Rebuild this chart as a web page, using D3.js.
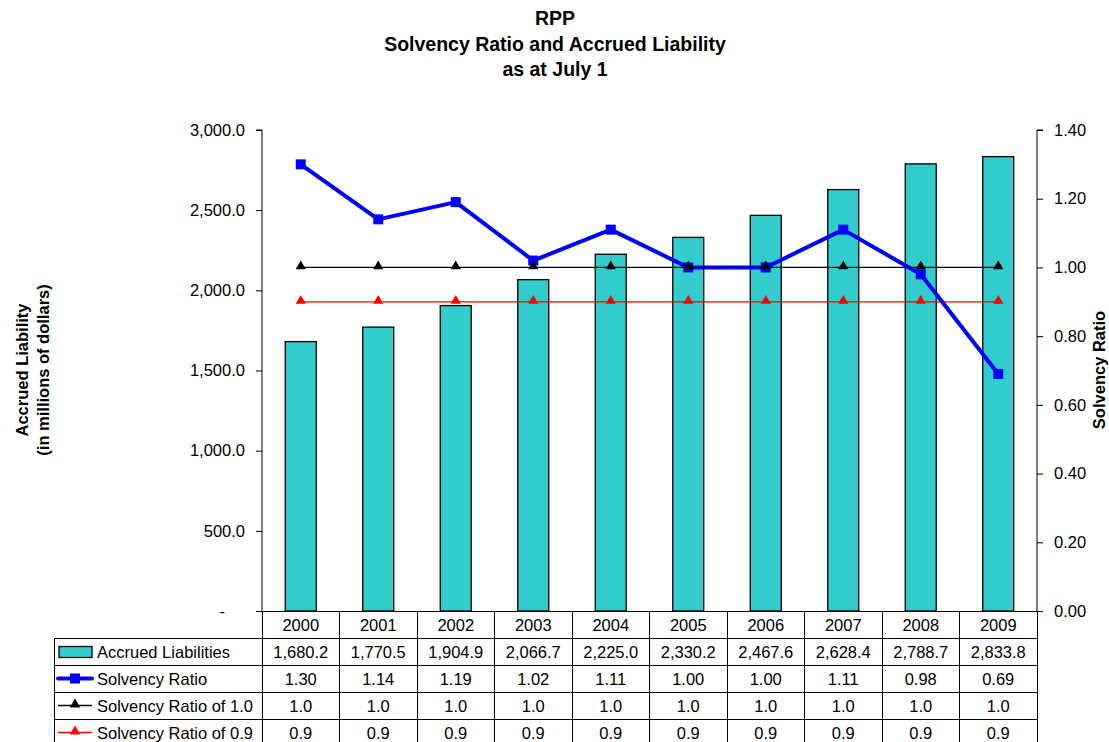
<!DOCTYPE html>
<html>
<head>
<meta charset="utf-8">
<script src="https://cdn.jsdelivr.net/npm/d3@7"></script>
<style>
body{margin:0;background:#fff;}
svg{font-family:"Liberation Sans",Arial,sans-serif;}
</style>
</head>
<body>
<svg id="chart" width="1109" height="742"></svg>
<script>
var years=["2000","2001","2002","2003","2004","2005","2006","2007","2008","2009"];
var accrued=[1680.2,1770.5,1904.9,2066.7,2225.0,2330.2,2467.6,2628.4,2788.7,2833.8];
var solvency=[1.30,1.14,1.19,1.02,1.11,1.00,1.00,1.11,0.98,0.69];
var ratio10=[1.0,1.0,1.0,1.0,1.0,1.0,1.0,1.0,1.0,1.0];
var ratio09=[0.9,0.9,0.9,0.9,0.9,0.9,0.9,0.9,0.9,0.9];
var leftTicks=[0,500,1000,1500,2000,2500,3000];
var rightTicks=[0,0.2,0.4,0.6,0.8,1.0,1.2,1.4];

var svg=d3.select("#chart"),
 plotL=262, plotR=1037, plotT=130, plotB=611, rowH=27, fs="16.5px";

var x=d3.scaleBand().domain(years).range([plotL,plotR]).paddingInner(0.6).paddingOuter(0.3);
var xc=function(i){ return x(years[i])+x.bandwidth()/2; };
var yL=d3.scaleLinear().domain([0,3000]).range([plotB,plotT]);
var yR=d3.scaleLinear().domain([0,1.4]).range([plotB,plotT]);

//title
var titles=["RPP","Solvency Ratio and Accrued Liability","as at July 1"];
svg.selectAll(".title").data(titles).enter().append("text")
 .attr("x",555).attr("y",function(d,i){return 25+i*25.5;})
 .attr("text-anchor","middle").style("font-size","19.5px").style("font-weight","bold").text(function(d){return d;});

//bars
svg.selectAll(".bar").data(accrued).enter().append("rect")
 .attr("x",function(d,i){return x(years[i]);})
 .attr("width",x.bandwidth())
 .attr("y",function(d){return yL(d);})
 .attr("height",function(d){return plotB-yL(d);})
 .attr("fill","#33CCCC").attr("stroke","#000").attr("stroke-width",1.3);

//axes
var la=svg.append("g").attr("transform","translate("+plotL+",0)")
 .call(d3.axisLeft(yL).tickValues(leftTicks).tickSize(6).tickPadding(11)
 .tickFormat(function(d){return d==0?"-":d3.format(",.1f")(d);}));
var ra=svg.append("g").attr("transform","translate("+plotR+",0)")
 .call(d3.axisRight(yR).tickValues(rightTicks).tickSize(6).tickPadding(11).tickFormat(d3.format(".2f")));
[la,ra].forEach(function(a){
 a.select(".domain").attr("d",a===la?"M-6,"+plotT+"H0V"+plotB:"M6,"+plotT+"H0V"+plotB).attr("stroke","#000").attr("stroke-width",1);
 a.selectAll("text").style("font-size",fs).style("font-family","Liberation Sans, Arial, sans-serif").attr("fill","#000");
});
la.selectAll(".tick").filter(function(d){return d==0;}).select("text").attr("dx","-20px");

//axis titles
svg.append("text").attr("transform","translate(28,370) rotate(-90)").attr("text-anchor","middle")
 .style("font-size",fs).style("font-weight","bold").text("Accrued Liability");
svg.append("text").attr("transform","translate(49,370) rotate(-90)").attr("text-anchor","middle")
 .style("font-size",fs).style("font-weight","bold").text("(in millions of dollars)");
svg.append("text").attr("transform","translate(1105,370) rotate(-90)").attr("text-anchor","middle")
 .style("font-size",fs).style("font-weight","bold").text("Solvency Ratio");

//lines
var line=d3.line().x(function(d,i){return xc(i);}).y(function(d){return yR(d);});
var tri=d3.symbol().type(d3.symbolTriangle).size(45);

svg.append("path").attr("d",line(ratio09)).attr("fill","none").attr("stroke","#FF0000").attr("stroke-width",1.3);
svg.selectAll(".t09").data(ratio09).enter().append("path")
 .attr("transform",function(d,i){return "translate("+xc(i)+","+(yR(d)-1)+")";}).attr("d",tri).attr("fill","#FF0000");

svg.append("path").attr("d",line(solvency)).attr("fill","none").attr("stroke","#0000FF").attr("stroke-width",4).attr("stroke-linejoin","round");
svg.selectAll(".sq").data(solvency).enter().append("rect")
 .attr("x",function(d,i){return xc(i)-5;}).attr("y",function(d){return yR(d)-5;})
 .attr("width",10).attr("height",10).attr("fill","#0000FF");

svg.append("path").attr("d",line(ratio10)).attr("fill","none").attr("stroke","#000").attr("stroke-width",1.3);
svg.selectAll(".t10").data(ratio10).enter().append("path")
 .attr("transform",function(d,i){return "translate("+xc(i)+","+(yR(d)-1)+")";}).attr("d",tri).attr("fill","#000");

//data table
var tableLeft=54;
var rows=[
 {name:"Accrued Liabilities",vals:accrued,fmt:d3.format(",.1f"),key:"bar"},
 {name:"Solvency Ratio",vals:solvency,fmt:d3.format(".2f"),key:"blue"},
 {name:"Solvency Ratio of 1.0",vals:ratio10,fmt:d3.format(".1f"),key:"black"},
 {name:"Solvency Ratio of 0.9",vals:ratio09,fmt:d3.format(".1f"),key:"red"}
];
var step=(plotR-plotL)/years.length;
var tg=svg.append("g").attr("stroke","#000").attr("stroke-width",1).attr("shape-rendering","crispEdges");
tg.append("line").attr("x1",plotL).attr("x2",plotR).attr("y1",plotB).attr("y2",plotB);
for(var r=0;r<=rows.length;r++){
 var yy=plotB+rowH*(r+1);
 tg.append("line").attr("x1",tableLeft).attr("x2",plotR).attr("y1",yy).attr("y2",yy);
}
var tBottom=plotB+rowH*(rows.length+1)+10;
tg.append("line").attr("x1",tableLeft).attr("x2",tableLeft).attr("y1",plotB+rowH).attr("y2",tBottom);
for(var c=0;c<=years.length;c++){
 var xx=plotL+step*c;
 tg.append("line").attr("x1",xx).attr("x2",xx).attr("y1",plotB).attr("y2",tBottom);
}
svg.selectAll(".yr").data(years).enter().append("text")
 .attr("x",function(d,i){return xc(i);}).attr("y",plotB+rowH/2+6.5)
 .attr("text-anchor","middle").style("font-size",fs).text(function(d){return d;});
rows.forEach(function(row,r){
 var cy=plotB+rowH*(r+1)+rowH/2;
 svg.selectAll(".v"+r).data(row.vals).enter().append("text")
  .attr("x",function(d,i){return xc(i);}).attr("y",cy+6.5)
  .attr("text-anchor","middle").style("font-size",fs).text(function(d){return row.fmt(d);});
 svg.append("text").attr("x",97).attr("y",cy+6.5).style("font-size",fs).text(row.name);
 var kx=58, kw=34;
 if(row.key=="bar"){
  svg.append("rect").attr("x",kx+1).attr("y",cy-5).attr("width",33).attr("height",11)
   .attr("fill","#33CCCC").attr("stroke","#000").attr("stroke-width",1.3);
 }else if(row.key=="blue"){
  svg.append("line").attr("x1",kx).attr("x2",kx+kw).attr("y1",cy).attr("y2",cy).attr("stroke","#0000FF").attr("stroke-width",4).attr("stroke-linecap","round");
  svg.append("rect").attr("x",kx+kw/2-5).attr("y",cy-5).attr("width",10).attr("height",10).attr("fill","#0000FF");
 }else{
  var col=row.key=="black"?"#000":"#FF0000";
  svg.append("line").attr("x1",kx).attr("x2",kx+kw).attr("y1",cy).attr("y2",cy).attr("stroke",col).attr("stroke-width",1.3);
  svg.append("path").attr("transform","translate("+(kx+kw/2)+","+(cy-1)+")").attr("d",tri).attr("fill",col);
 }
});
</script>
</body>
</html>
